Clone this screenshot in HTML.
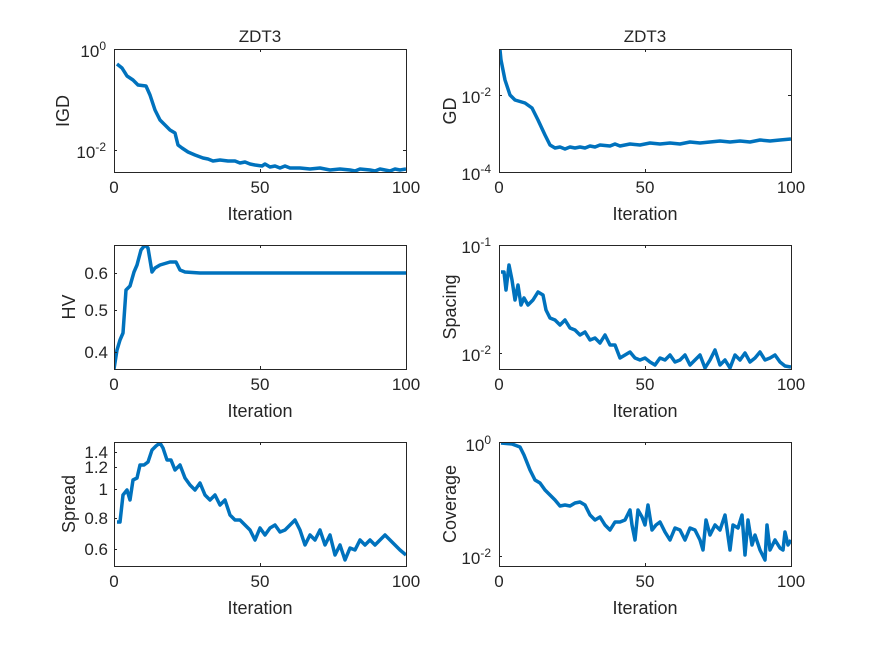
<!DOCTYPE html>
<html><head><style>body{margin:0;background:#fff}svg{display:block}text{font-family:"Liberation Sans",sans-serif;fill:#262626}</style></head><body>
<svg width="875" height="656" viewBox="0 0 875 656">
<defs>
<clipPath id="c1"><rect x="114" y="49" width="292" height="123"/></clipPath>
<clipPath id="c2"><rect x="499" y="49" width="292" height="123"/></clipPath>
<clipPath id="c3"><rect x="114" y="245" width="292" height="124"/></clipPath>
<clipPath id="c4"><rect x="499" y="245" width="292" height="124"/></clipPath>
<clipPath id="c5"><rect x="114" y="442" width="292" height="124"/></clipPath>
<clipPath id="c6"><rect x="499" y="442" width="292" height="124"/></clipPath>
</defs>
<g fill="none" stroke="#0072BD" stroke-width="3.5" stroke-linejoin="round">
<polyline clip-path="url(#c1)" points="117,64 122,68 127,76 133,80 138,85 146,86 150,95 155,110 160,120 170,130 175,133 178,145 182,148 188,152 195,155 203,158 208,159 213,161 220,160 228,161 235,161 240,163 245,162 250,164 255,165 262,166 265,164 270,167 275,166 280,168 285,166 290,168 300,168 310,169 320,168 330,170 340,169 350,170 355,171 360,169 370,170 375,171 380,169 385,170 390,171 395,169 400,170 406,169"/>
<polyline clip-path="url(#c2)" points="499,40 501,60 505,80 510,95 515,100 525,103 532,108 538,120 545,135 550,145 555,148 560,147 565,149 570,147 575,148 580,147 585,148 590,146 595,147 600,145 610,146 615,144 620,146 630,144 640,145 650,143 660,144 670,143 680,144 690,142 700,143 710,142 720,141 730,142 740,141 750,142 760,140 770,141 780,140 791,139"/>
<polyline clip-path="url(#c3)" points="114,369 117,350 120,340 123,333 126,290 130,286 134,272 137,265 141,250 145,245 148,248 152,272 155,268 160,265 170,262 176,262 180,270 185,272 200,273 406,273"/>
<polyline clip-path="url(#c4)" points="501,272 504,272 506,290 509,265 512,280 515,300 518,285 521,305 524,298 528,305 533,300 538,292 543,295 546,310 550,318 555,320 560,325 565,320 570,328 575,330 580,335 585,332 590,340 595,338 600,343 605,335 610,345 615,345 620,358 625,355 630,352 635,358 640,360 645,358 650,362 655,365 660,358 665,360 670,355 675,362 680,360 685,355 690,365 695,360 700,355 705,368 710,360 715,350 720,365 725,360 730,368 735,355 740,360 745,353 750,362 755,358 760,352 765,360 770,358 775,355 780,362 785,366 791,367"/>
<polyline clip-path="url(#c5)" points="117,522 120,522 123,495 127,490 130,500 133,480 137,478 140,465 144,465 148,462 152,450 156,446 160,443 163,448 167,460 171,460 175,470 180,465 185,478 190,485 195,490 200,483 205,495 210,500 215,495 220,505 225,500 230,515 235,520 240,520 245,525 250,530 255,540 260,528 265,535 270,528 275,525 280,532 285,530 290,525 295,520 300,530 305,545 310,535 315,540 320,530 325,545 330,535 335,555 340,545 345,560 350,548 355,550 360,540 365,545 370,540 375,545 380,540 385,535 390,540 395,545 400,550 406,555"/>
<polyline clip-path="url(#c6)" points="501,443 512,444 520,447 524,455 530,470 535,480 540,483 545,490 550,495 555,500 560,506 565,505 570,506 575,503 580,502 585,505 590,515 595,520 600,517 605,525 610,530 615,522 620,522 625,520 630,510 632,525 635,540 638,510 642,517 645,525 648,505 652,530 656,525 660,522 665,532 670,540 675,528 680,530 685,540 690,528 695,530 700,540 703,550 706,520 710,535 715,525 720,530 725,515 730,550 733,525 738,528 742,515 745,555 748,520 752,545 755,535 760,550 765,560 767,525 770,550 775,540 780,548 783,550 785,532 788,545 791,540"/>
</g>
<g fill="none" stroke="#262626" stroke-width="1">
<rect x="114.5" y="49.5" width="292" height="123"/>
<rect x="499.5" y="49.5" width="292" height="123"/>
<rect x="114.5" y="245.5" width="292" height="124"/>
<rect x="499.5" y="245.5" width="292" height="124"/>
<rect x="114.5" y="442.5" width="292" height="124"/>
<rect x="499.5" y="442.5" width="292" height="124"/>
<path d="M260.5,172v-3M260.5,49v3M645.5,172v-3M645.5,49v3M260.5,369v-3M260.5,245v3M645.5,369v-3M645.5,245v3M260.5,566v-3M260.5,442v3M645.5,566v-3M645.5,442v3"/>
<path d="M114,150.5h3M406,150.5h-3M499,95.5h3M791,95.5h-3M114,273.5h3M114,310.5h3M114,352.5h3M499,353.5h3M114,452.5h3M114,467.5h3M114,489.5h3M114,518.5h3M114,549.5h3M499,556.5h3"/>
</g>
<g font-size="17">
<text x="260" y="42" text-anchor="middle">ZDT3</text>
<text x="645" y="42" text-anchor="middle">ZDT3</text>
<g text-anchor="middle">
<text x="114" y="193">0</text><text x="260" y="193">50</text><text x="406" y="193">100</text>
<text x="499" y="193">0</text><text x="645" y="193">50</text><text x="791" y="193">100</text>
<text x="114" y="390">0</text><text x="260" y="390">50</text><text x="406" y="390">100</text>
<text x="499" y="390">0</text><text x="645" y="390">50</text><text x="791" y="390">100</text>
<text x="114" y="587">0</text><text x="260" y="587">50</text><text x="406" y="587">100</text>
<text x="499" y="587">0</text><text x="645" y="587">50</text><text x="791" y="587">100</text>
<text x="260" y="220" font-size="18">Iteration</text><text x="645" y="220" font-size="18">Iteration</text>
<text x="260" y="417" font-size="18">Iteration</text><text x="645" y="417" font-size="18">Iteration</text>
<text x="260" y="614" font-size="18">Iteration</text><text x="645" y="614" font-size="18">Iteration</text>
</g>
<g text-anchor="end">
<text x="106" y="57">10<tspan font-size="12" dy="-7">0</tspan></text>
<text x="106" y="158">10<tspan font-size="12" dy="-7">-2</tspan></text>
<text x="491" y="103">10<tspan font-size="12" dy="-7">-2</tspan></text>
<text x="491" y="180">10<tspan font-size="12" dy="-7">-4</tspan></text>
<text x="108" y="279">0.6</text><text x="108" y="316">0.5</text><text x="108" y="358">0.4</text>
<text x="491" y="253">10<tspan font-size="12" dy="-7">-1</tspan></text>
<text x="491" y="361">10<tspan font-size="12" dy="-7">-2</tspan></text>
<text x="108" y="458">1.4</text><text x="108" y="473">1.2</text><text x="108" y="495">1</text><text x="108" y="524">0.8</text><text x="108" y="555">0.6</text>
<text x="491" y="451">10<tspan font-size="12" dy="-7">0</tspan></text>
<text x="491" y="564">10<tspan font-size="12" dy="-7">-2</tspan></text>
</g>
<g font-size="18" text-anchor="middle">
<text transform="translate(69,111) rotate(-90)">IGD</text>
<text transform="translate(456,111) rotate(-90)">GD</text>
<text transform="translate(75,307) rotate(-90)">HV</text>
<text transform="translate(456,307) rotate(-90)">Spacing</text>
<text transform="translate(75,504) rotate(-90)">Spread</text>
<text transform="translate(456,504) rotate(-90)">Coverage</text>
</g>
</g>
</svg>
</body></html>
